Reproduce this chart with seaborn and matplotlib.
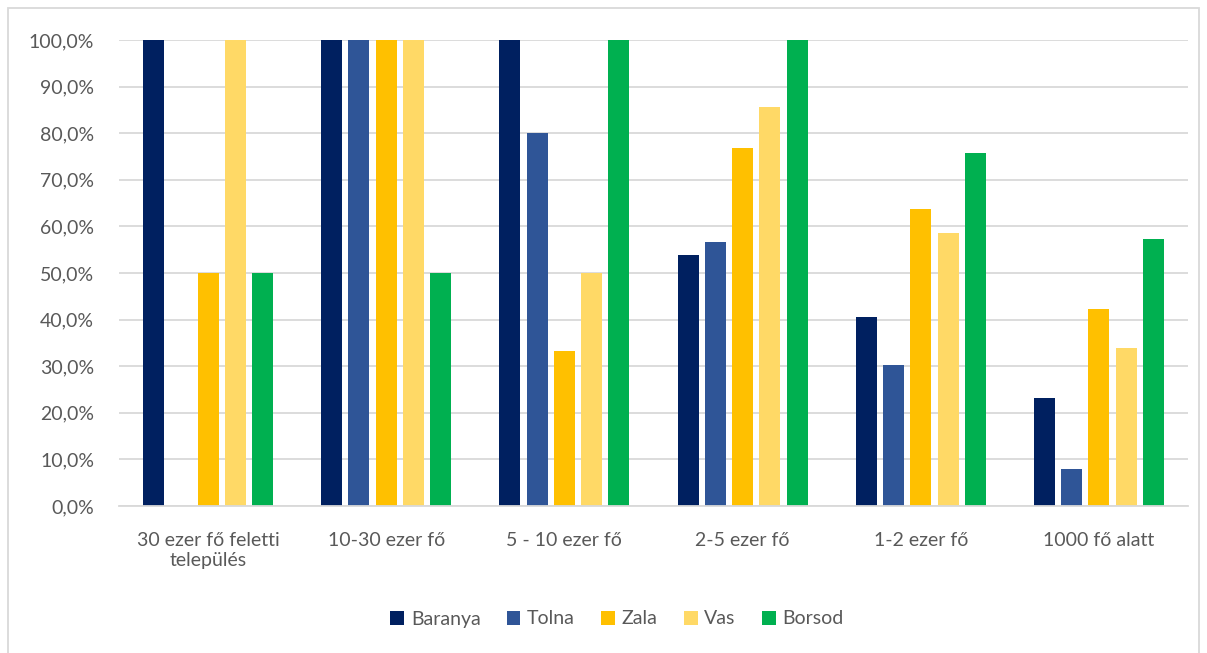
import pandas as pd
import numpy as np
import matplotlib.pyplot as plt
import matplotlib.patches as mpatches
from matplotlib.ticker import FuncFormatter
import seaborn as sns

categories = ['30 ezer fő feletti\ntelepülés', '10-30 ezer fő', '5 - 10 ezer fő',
              '2-5 ezer fő', '1-2 ezer fő', '1000 fő alatt']
counties = ['Baranya', 'Tolna', 'Zala', 'Vas', 'Borsod']

baranya = [100.0, 100.0, 100.0, 53.9, 40.6, 23.1]
tolna = [0.0, 100.0, 80.0, 56.7, 30.3, 7.9]
zala = [50.0, 100.0, 33.3, 76.9, 63.7, 42.3]
vas = [100.0, 100.0, 50.0, 85.7, 58.5, 33.8]
borsod = [50.0, 50.0, 100.0, 100.0, 75.7, 57.3]

colors = ['#002060', '#2F5597', '#FFC000', '#FFD966', '#00B050']

rows = []
for county, vals in zip(counties, [baranya, tolna, zala, vas, borsod]):
    for cat, v in zip(categories, vals):
        rows.append({'kat': cat, 'megye': county, 'ertek': v / 100})
df = pd.DataFrame(rows)

sns.set_style('white')
plt.rcParams['font.family'] = ['Lato', 'DejaVu Sans']
txt = '#595959'
fs = 14

fig = plt.figure(figsize=(12.07, 6.53), dpi=100)
ax = fig.add_axes([119 / 1207, 1 - 506 / 653, (1188 - 119) / 1207, (506 - 40) / 653])

sns.barplot(data=df, x='kat', y='ertek', hue='megye', order=categories,
            hue_order=counties, palette=colors, saturation=1, width=0.765, gap=0.23,
            linewidth=0, ax=ax, legend=True)

ax.set_ylim(0, 1)
ax.set_xlim(-0.5, len(categories) - 0.5)
ax.set_yticks(np.arange(0, 1.01, 0.1))
ax.yaxis.set_major_formatter(FuncFormatter(lambda v, p: f'{v * 100:.1f}%'.replace('.', ',')))
ax.grid(axis='y', color='#D9D9D9', linewidth=1.3)
ax.set_axisbelow(True)
for s in ['top', 'right', 'left']:
    ax.spines[s].set_visible(False)
ax.spines['bottom'].set_color('#D9D9D9')
ax.spines['bottom'].set_linewidth(1.3)
ax.tick_params(axis='y', length=0, pad=18, labelsize=fs, labelcolor=txt)
ax.tick_params(axis='x', length=0, pad=19, labelsize=fs, labelcolor=txt)
for lbl in ax.get_xticklabels():
    lbl.set_linespacing(1.2)
ax.set_xlabel('')
ax.set_ylabel('')

handles, labels = ax.get_legend_handles_labels()
ax.get_legend().remove()
fig.legend(handles, labels, loc='center', bbox_to_anchor=(617 / 1207, 1 - 619 / 653), ncol=5,
           frameon=False, fontsize=fs, labelcolor=txt, handlelength=0.7,
           handleheight=0.7, handletextpad=0.35, columnspacing=1.35)

fig.patches.append(mpatches.Rectangle((8 / 1207, -0.01), (1199 - 8) / 1207, 1 - 8 / 653 + 0.01,
                                      transform=fig.transFigure, fill=False,
                                      edgecolor='#D9D9D9', linewidth=1.3))

plt.savefig('out.png', dpi=100)
